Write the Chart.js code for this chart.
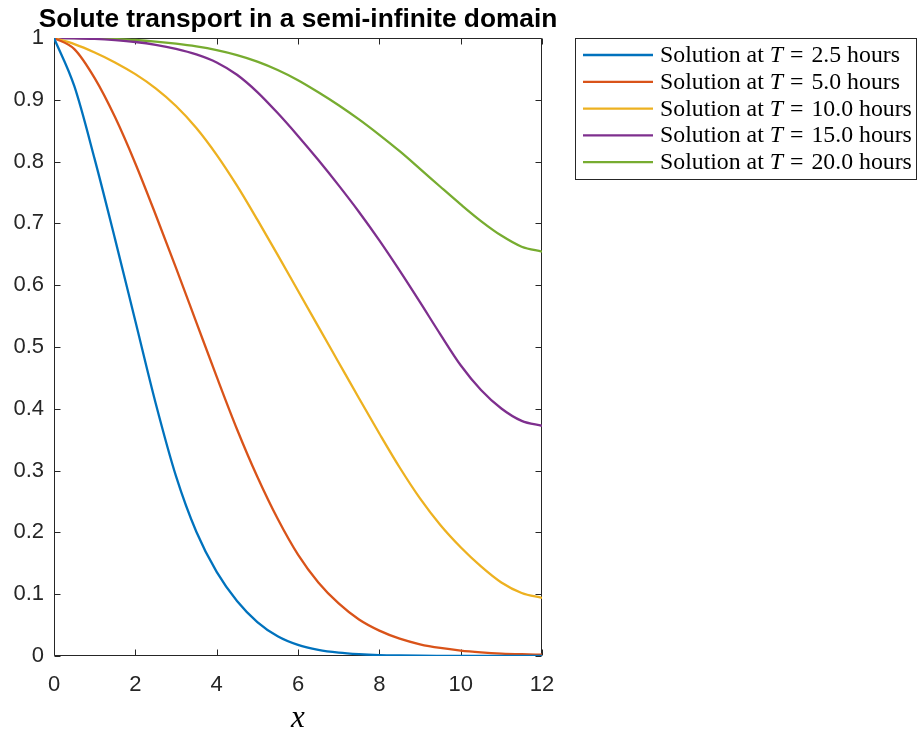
<!DOCTYPE html>
<html lang="en">
<head>
<meta charset="UTF-8">
<title>Solute transport in a semi-infinite domain</title>
<style>
    html, body { margin: 0; padding: 0; background: #fff; }
    canvas { display: block; }
</style>
<script src="https://cdn.jsdelivr.net/npm/chart.js"></script>
</head>
<body>
<canvas id="soluteChart" width="917" height="734"></canvas>
<script>
// sample positions along the domain
const xValues = [0, 0.5, 1, 1.5, 2, 2.5, 3, 3.5, 4, 4.5, 5, 5.5, 6, 6.5, 7, 7.5, 8, 8.5, 9, 9.5, 10, 10.5, 11, 11.5, 12];

// concentration profiles, one per elapsed time
const concT2_5 = [1.0, 0.922, 0.804, 0.675, 0.542, 0.409, 0.291, 0.201, 0.136, 0.089, 0.055, 0.032, 0.018, 0.010, 0.0055, 0.003, 0.0015, 0.0008, 0.0004, 0.0002, 0.0001, 0, 0, 0, 0];
const concT5 = [1.0, 0.982, 0.935, 0.872, 0.797, 0.714, 0.628, 0.540, 0.452, 0.367, 0.290, 0.222, 0.164, 0.119, 0.085, 0.059, 0.041, 0.028, 0.019, 0.013, 0.0088, 0.006, 0.004, 0.0028, 0.002];
const concT10 = [1.0, 0.990, 0.9765, 0.9605, 0.9415, 0.9185, 0.890, 0.8545, 0.811, 0.761, 0.706, 0.649, 0.591, 0.533, 0.475, 0.417, 0.360, 0.305, 0.255, 0.212, 0.176, 0.145, 0.119, 0.102, 0.094];
const concT15 = [1.0, 0.9995, 0.9985, 0.9965, 0.9935, 0.989, 0.9825, 0.9735, 0.9605, 0.9405, 0.9125, 0.8785, 0.8415, 0.8025, 0.7615, 0.7185, 0.6725, 0.6235, 0.5725, 0.5205, 0.4705, 0.4305, 0.4005, 0.3805, 0.3725];
const concT20 = [1.0, 0.9998, 0.9993, 0.9983, 0.9968, 0.9943, 0.9908, 0.9863, 0.9803, 0.9723, 0.9618, 0.9483, 0.9318, 0.9123, 0.8913, 0.8683, 0.8433, 0.8168, 0.7883, 0.7593, 0.7308, 0.7038, 0.6803, 0.6623, 0.6543];

const hourLabels = ['2.5', '5.0', '10.0', '15.0', '20.0'];
const xTicks = [0, 2, 4, 6, 8, 10, 12];
const yTicks = [0, 0.1, 0.2, 0.3, 0.4, 0.5, 0.6, 0.7, 0.8, 0.9, 1];
const yTickLabels = ['0', '0.1', '0.2', '0.3', '0.4', '0.5', '0.6', '0.7', '0.8', '0.9', '1'];

const lineColors = ['#0072BD', '#D95319', '#EDB120', '#7E2F8E', '#77AC30'];
const axisColor = '#262626';
const sansFont = '"Liberation Sans", Arial, Helvetica, sans-serif';
const serifFont = '"Liberation Serif", "Times New Roman", serif';

const profiles = [concT2_5, concT5, concT10, concT15, concT20];

const datasets = profiles.map((vals, i) => ({
    label: 'Solution at T = ' + hourLabels[i] + ' hours',
    hours: hourLabels[i],
    data: vals.map((v, j) => ({ x: xValues[j], y: v })),
    borderColor: lineColors[i],
    borderWidth: 2.3,
    pointRadius: 0,
    fill: false,
    cubicInterpolationMode: 'monotone'
}));

// axes box with inward ticks on all four sides, drawn under the curves
const axesBox = {
    id: 'axesBox',
    beforeDatasetsDraw(chart) {
        const { ctx, chartArea: a, scales } = chart;
        const L = Math.round(a.left) + 0.5, R = Math.round(a.right) - 0.5;
        const T = Math.round(a.top) + 0.5, B = Math.round(a.bottom) - 0.5;
        const len = 6;
        ctx.save();
        ctx.strokeStyle = axisColor;
        ctx.lineWidth = 1;
        ctx.beginPath();
        ctx.rect(L, T, R - L, B - T);
        scales.x.ticks.forEach(t => {
            const px = Math.round(scales.x.getPixelForValue(t.value)) + 0.5;
            ctx.moveTo(px, B); ctx.lineTo(px, B - len);
            ctx.moveTo(px, T); ctx.lineTo(px, T + len);
        });
        scales.y.ticks.forEach(t => {
            const py = Math.round(scales.y.getPixelForValue(t.value)) + 0.5;
            ctx.moveTo(L, py); ctx.lineTo(L + len, py);
            ctx.moveTo(R, py); ctx.lineTo(R - len, py);
        });
        ctx.stroke();
        ctx.restore();
    }
};

// bold title centred over the axes
const plotTitle = {
    id: 'plotTitle',
    afterDraw(chart) {
        const { ctx, chartArea: a } = chart;
        const text = 'Solute transport in a semi-infinite domain';
        ctx.save();
        ctx.font = 'bold 22px ' + sansFont;
        const size = 22 * 519 / ctx.measureText(text).width;
        ctx.font = 'bold ' + size.toFixed(2) + 'px ' + sansFont;
        ctx.fillStyle = '#000';
        ctx.textAlign = 'center';
        ctx.textBaseline = 'alphabetic';
        ctx.fillText(text, (a.left + a.right) / 2, 27);
        ctx.restore();
    }
};

// boxed legend, each entry written as "Solution at T = n hours" with an italic T
const boxLegend = {
    id: 'boxLegend',
    afterDraw(chart) {
        const { ctx } = chart;
        const left = 575.5, top = 38.5, right = 916.5, bottom = 179.5;
        const rowStep = 26.8, firstRow = 55;
        const gapBefore = 7, gapAfter = 8;
        const prefix = 'Solution at ';
        ctx.save();
        ctx.fillStyle = '#fff';
        ctx.fillRect(left, top, right - left, bottom - top);
        ctx.strokeStyle = axisColor;
        ctx.lineWidth = 1;
        ctx.strokeRect(left, top, right - left, bottom - top);

        // size the text so the widest entry fills the box
        const widthAt = size => {
            const up = size + 'px ' + serifFont;
            ctx.font = up;
            let w = ctx.measureText(prefix).width + ctx.measureText('=').width + ctx.measureText('10.0 hours').width;
            ctx.font = 'italic ' + up;
            w += ctx.measureText('T').width;
            return w;
        };
        const size = (20 * (252 - gapBefore - gapAfter) / widthAt(20)).toFixed(2);
        const upright = size + 'px ' + serifFont;
        const slanted = 'italic ' + upright;

        chart.data.datasets.forEach((ds, i) => {
            const y = firstRow + i * rowStep;
            ctx.strokeStyle = ds.borderColor;
            ctx.lineWidth = 2.3;
            ctx.beginPath();
            ctx.moveTo(583, y);
            ctx.lineTo(653, y);
            ctx.stroke();

            let x = 660;
            const base = y + 7;
            ctx.fillStyle = '#000';
            ctx.textBaseline = 'alphabetic';
            ctx.font = upright;
            ctx.fillText(prefix, x, base);
            x += ctx.measureText(prefix).width;
            ctx.font = slanted;
            ctx.fillText('T', x, base);
            x += ctx.measureText('T').width + gapBefore;
            ctx.font = upright;
            ctx.fillText('=', x, base);
            x += ctx.measureText('=').width + gapAfter;
            ctx.fillText(ds.hours + ' hours', x, base);
        });
        ctx.restore();
    }
};

new Chart(document.getElementById('soluteChart').getContext('2d'), {
    type: 'line',
    data: { datasets: datasets },
    options: {
        responsive: false,
        animation: false,
        layout: { padding: { left: 0, top: 38, right: 375, bottom: 0 } },
        plugins: {
            legend: { display: false },
            title: { display: false },
            tooltip: { enabled: false }
        },
        scales: {
            x: {
                type: 'linear',
                min: 0,
                max: 12,
                afterBuildTicks: scale => { scale.ticks = xTicks.map(v => ({ value: v })); },
                afterFit: scale => { scale.height = 78; },
                grid: { display: false, drawTicks: false },
                border: { display: false },
                ticks: {
                    color: axisColor,
                    font: { family: sansFont, size: 22 },
                    padding: 16,
                    maxRotation: 0,
                    autoSkip: false,
                    callback: v => String(v)
                },
                title: {
                    display: true,
                    text: 'x',
                    color: '#000',
                    font: { family: serifFont, size: 31, style: 'italic', lineHeight: 1.2 },
                    padding: { top: 0, bottom: -3 }
                }
            },
            y: {
                type: 'linear',
                min: 0,
                max: 1,
                afterBuildTicks: scale => { scale.ticks = yTicks.map(v => ({ value: v })); },
                afterFit: scale => { scale.width = 54; },
                grid: { display: false, drawTicks: false },
                border: { display: false },
                ticks: {
                    color: axisColor,
                    font: { family: sansFont, size: 22 },
                    padding: 10,
                    autoSkip: false,
                    callback: (v, idx) => yTickLabels[idx]
                }
            }
        }
    },
    plugins: [axesBox, plotTitle, boxLegend]
});
</script>
</body>
</html>
